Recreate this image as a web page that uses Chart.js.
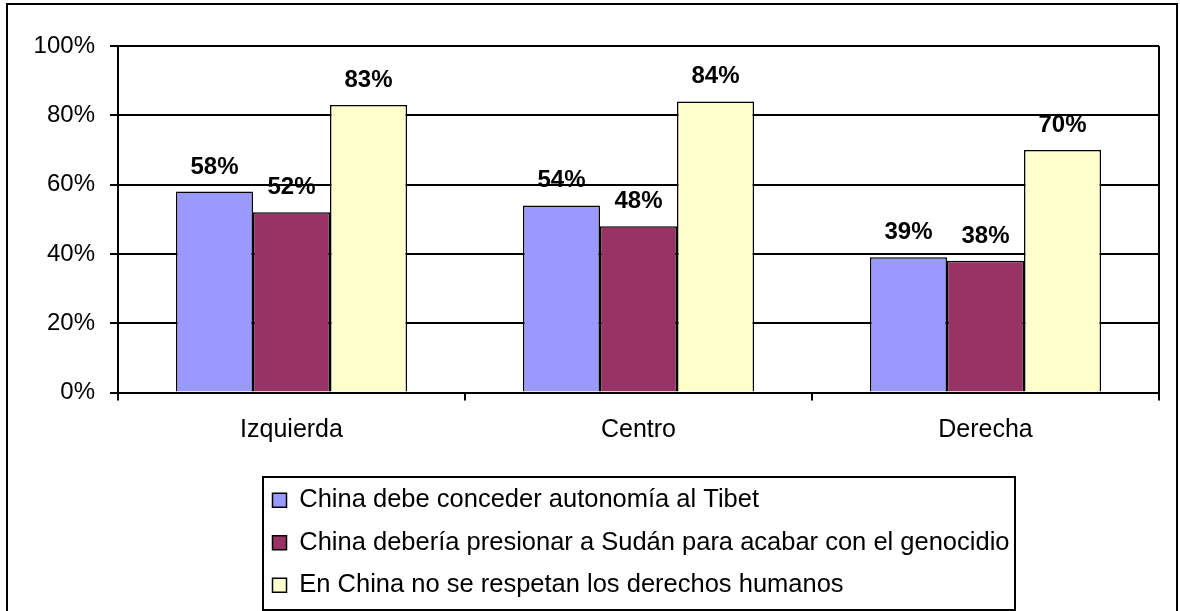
<!DOCTYPE html>
<html lang="es">
<head>
<meta charset="UTF-8">
<title>China - opinión por ideología</title>
<script src="https://cdn.jsdelivr.net/npm/chart.js"></script>
<style>
    html, body { margin: 0; padding: 0; background: #fff; overflow: hidden; }
    #frame {
        position: absolute; left: 6px; top: 3px;
        width: 1168px; height: 700px;
        border: 2px solid #000;
    }
    #chart { position: absolute; left: 0; top: 0; }
</style>
</head>
<body>
<div id="frame"></div>
<canvas id="chart" width="1180" height="611"></canvas>
<script>
    // data
    const categories = ['Izquierda', 'Centro', 'Derecha'];
    const seriesNames = [
        'China debe conceder autonomía al Tibet',
        'China debería presionar a Sudán para acabar con el genocidio',
        'En China no se respetan los derechos humanos'
    ];
    const tibet = [58, 54, 39];
    const sudan = [52, 48, 38];
    const derechos = [83, 84, 70];
    const seriesColors = ['#9999FF', '#993366', '#FFFFCC'];

    const LEGEND_FONT = 25.5;

    Chart.defaults.font.family = '"Liberation Sans", Arial, sans-serif';
    Chart.defaults.color = '#000';

    // value labels above each bar
    const valueLabels = {
        id: 'valueLabels',
        afterDatasetsDraw(chart) {
            const ctx = chart.ctx;
            ctx.save();
            ctx.font = 'bold 24px "Liberation Sans", Arial, sans-serif';
            ctx.fillStyle = '#000';
            ctx.textAlign = 'center';
            ctx.textBaseline = 'alphabetic';
            chart.data.datasets.forEach((ds, i) => {
                chart.getDatasetMeta(i).data.forEach((bar, j) => {
                    ctx.fillText(ds.data[j] + '%', bar.x, bar.y - 18);
                });
            });
            ctx.restore();
        }
    };

    // left-aligned legend rows, centred under the plot, with a box round them
    const legendFrame = {
        id: 'legendFrame',
        afterLayout(chart) {
            const lg = chart.legend;
            const pad = lg.options.labels.padding;
            const content = Math.max(...lg.lineWidths) - pad;
            const mid = (chart.chartArea.left + chart.chartArea.right) / 2;
            lg.left = mid - (content + 15) / 2 + 10 - pad;
        },
        afterDraw(chart) {
            const lg = chart.legend;
            const ctx = chart.ctx;
            const pad = lg.options.labels.padding;
            const rows = lg.lineWidths.length;
            const content = Math.max(...lg.lineWidths) - pad;
            const x0 = lg.left + pad - 10;
            const y0 = lg.top + pad - 11;
            const w = content + 15;
            const h = rows * (LEGEND_FONT + pad) - pad + 22;
            ctx.save();
            ctx.strokeStyle = '#000';
            ctx.lineWidth = 2;
            ctx.strokeRect(Math.round(x0), Math.round(y0), Math.round(w), Math.round(h));
            ctx.restore();
        }
    };

    new Chart(document.getElementById('chart'), {
        type: 'bar',
        data: {
            labels: categories,
            datasets: [tibet, sudan, derechos].map((vals, i) => ({
                label: seriesNames[i],
                data: vals,
                backgroundColor: seriesColors[i],
                borderColor: '#000',
                borderWidth: 1.5,
                categoryPercentage: 0.666,
                barPercentage: 1
            }))
        },
        options: {
            responsive: false,
            animation: false,
            layout: { padding: { top: 46, right: 21, bottom: 3, left: 0 } },
            plugins: {
                legend: {
                    position: 'bottom',
                    align: 'start',
                    labels: {
                        boxWidth: 14,
                        boxHeight: 14,
                        padding: 17,
                        color: '#000',
                        font: { size: LEGEND_FONT }
                    }
                },
                tooltip: { enabled: false }
            },
            scales: {
                x: {
                    grid: {
                        offset: true,
                        color: c => c.type === 'scale' ? '#000' : 'rgba(0,0,0,0)',
                        tickColor: '#000',
                        lineWidth: 2,
                        tickLength: 8
                    },
                    border: { color: '#000', width: 2 },
                    ticks: { color: '#000', font: { size: 25 }, padding: 15 },
                    afterFit: s => { s.height = 78; }
                },
                y: {
                    min: 0,
                    max: 100,
                    grid: { color: '#000', lineWidth: 2, tickLength: 8 },
                    border: { color: '#000', width: 2 },
                    ticks: {
                        stepSize: 20,
                        color: '#000',
                        font: { size: 24 },
                        padding: 15,
                        callback: v => v + '%'
                    },
                    afterFit: s => { s.width = 118; }
                }
            }
        },
        plugins: [valueLabels, legendFrame]
    });
</script>
</body>
</html>
